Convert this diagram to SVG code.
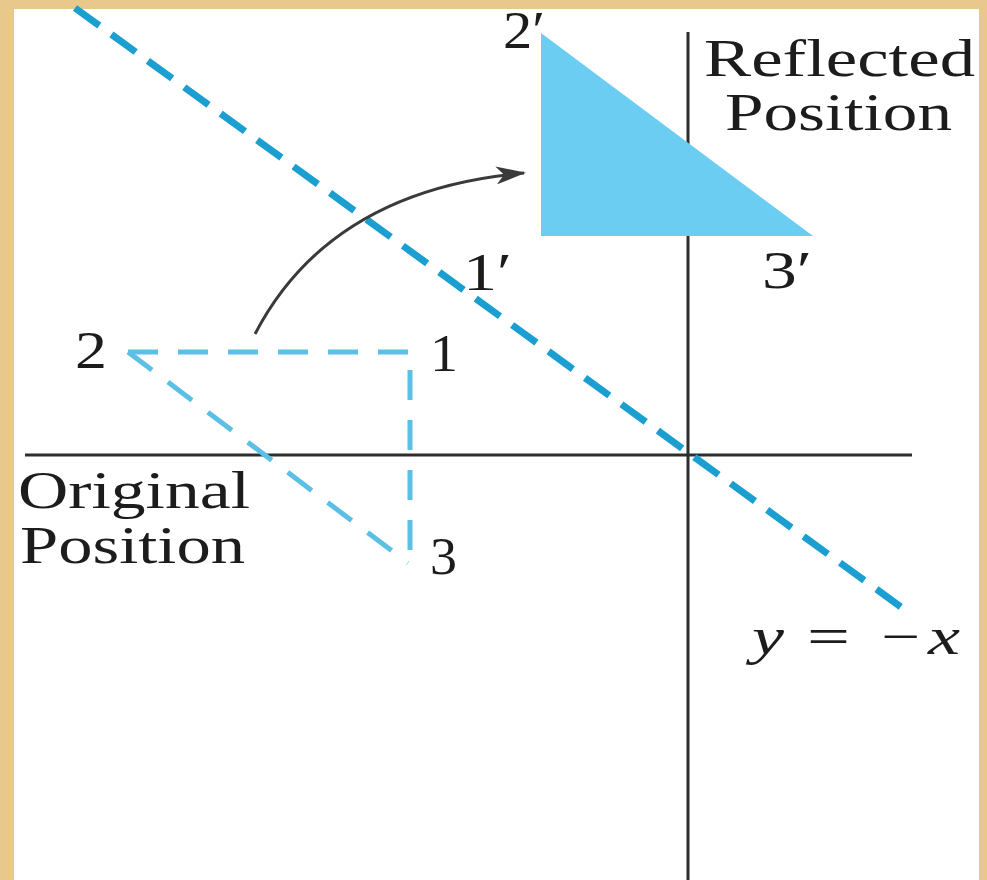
<svg xmlns="http://www.w3.org/2000/svg" width="987" height="880" viewBox="0 0 987 880">
  <style>
    .lbl { font-family: "Liberation Serif", "DejaVu Serif", serif; font-size: 52px; fill: #1c1c1c; }
    .axis { stroke: #2e2e2e; stroke-width: 3; fill: none; }
    .mirror { stroke: #1a9fd0; stroke-width: 7; stroke-dasharray: 30 15; fill: none; }
    .orig { stroke: #5cbfe6; stroke-width: 5; stroke-dasharray: 30 20; fill: none; }
  </style>
  <defs>
    <marker id="arrowhead" viewBox="0 0 30 18" refX="28" refY="9" markerWidth="30" markerHeight="18" markerUnits="userSpaceOnUse" orient="auto">
      <path d="M0,0 L30,9 L0,18 L8,9 Z" fill="#3a3a3a"/>
    </marker>
  </defs>

  <g id="background">
    <rect x="0" y="0" width="987" height="880" fill="#e8c98b"/>
    <rect x="14" y="9" width="965" height="871" fill="#ffffff"/>
  </g>

  <g id="axes">
    <line class="axis" x1="25" y1="455" x2="912" y2="455"/>
    <line class="axis" x1="688" y1="32" x2="688" y2="880"/>
  </g>

  <g id="reflected-triangle">
    <polygon points="541,33 541,236 813,236" fill="#6ccdf2"/>
  </g>

  <g id="mirror-line">
    <line class="mirror" x1="75" y1="8" x2="912" y2="615"/>
  </g>

  <g id="original-triangle">
    <polyline class="orig" points="128,352 410,352 410,565"/>
    <line class="orig" x1="128" y1="352" x2="408" y2="563"/>
  </g>

  <g id="connectors">
    <path d="M255,334 Q330,190 524,173" stroke="#3a3a3a" stroke-width="3" fill="none" marker-end="url(#arrowhead)"/>
  </g>

  <g id="labels">
    <text class="lbl" x="704" y="76" textLength="271" lengthAdjust="spacingAndGlyphs">Reflected</text>
    <text class="lbl" x="725" y="130" textLength="227" lengthAdjust="spacingAndGlyphs">Position</text>
    <text class="lbl" x="18" y="508" textLength="232" lengthAdjust="spacingAndGlyphs">Original</text>
    <text class="lbl" x="20" y="563" textLength="225" lengthAdjust="spacingAndGlyphs">Position</text>
    <text class="lbl" x="75" y="368" textLength="32" lengthAdjust="spacingAndGlyphs">2</text>
    <text class="lbl" x="430" y="371" textLength="28" lengthAdjust="spacingAndGlyphs">1</text>
    <text class="lbl" x="430" y="574" textLength="27" lengthAdjust="spacingAndGlyphs">3</text>
    <text class="lbl" x="463" y="290" textLength="49" lengthAdjust="spacingAndGlyphs">1′</text>
    <text class="lbl" x="503" y="48" textLength="42" lengthAdjust="spacingAndGlyphs">2′</text>
    <text class="lbl" x="762" y="288" textLength="50" lengthAdjust="spacingAndGlyphs">3′</text>
    <text class="lbl" y="654"><tspan x="752" font-style="italic" textLength="32" lengthAdjust="spacingAndGlyphs">y</tspan><tspan x="807" textLength="43" lengthAdjust="spacingAndGlyphs">=</tspan><tspan x="881" textLength="39" lengthAdjust="spacingAndGlyphs">−</tspan><tspan x="928" font-style="italic" textLength="32" lengthAdjust="spacingAndGlyphs">x</tspan></text>
  </g>
</svg>
